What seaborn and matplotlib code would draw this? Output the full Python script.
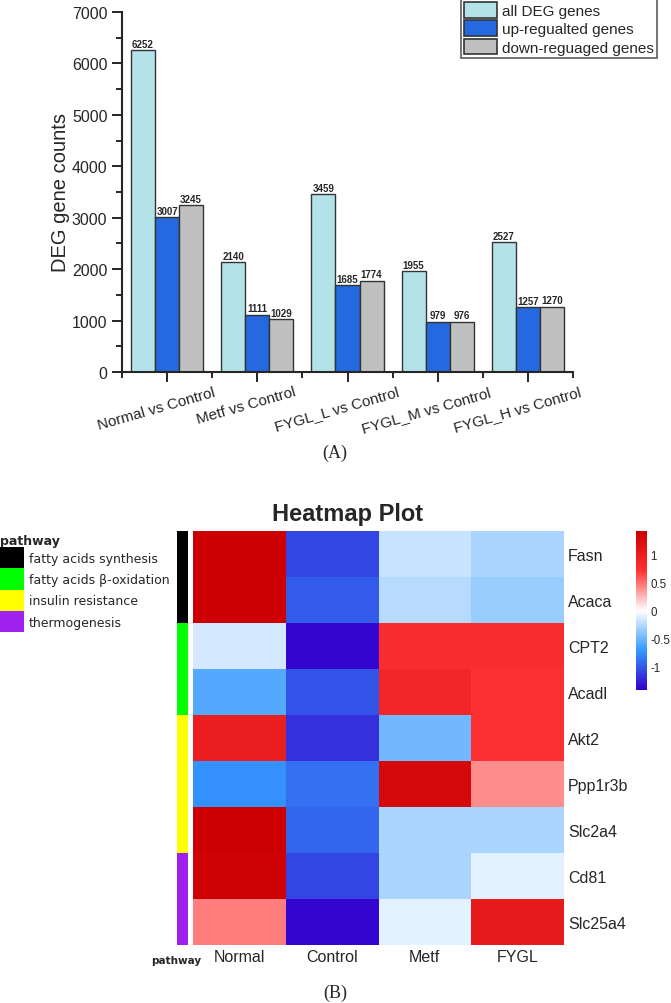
import numpy as np
import pandas as pd
import matplotlib
matplotlib.use("Agg")
import matplotlib.pyplot as plt
import matplotlib.transforms as mtransforms
import seaborn as sns
from matplotlib.colors import LinearSegmentedColormap, ListedColormap
from matplotlib.patches import Patch
from matplotlib.ticker import MultipleLocator, FixedLocator

# ---- data (A) ----
comparisons = ["Normal vs Control", "Metf vs Control", "FYGL_L vs Control",
               "FYGL_M vs Control", "FYGL_H vs Control"]
gene_types = ["all DEG genes", "up-regualted genes", "down-reguaged genes"]
all_deg = [6252, 2140, 3459, 1955, 2527]
up_deg = [3007, 1111, 1685, 979, 1257]
down_deg = [3245, 1029, 1774, 976, 1270]
bar_colors = ["#b3e3e8", "#2469e0", "#c0c0c0"]

# ---- data (B) ----
genes = ["Fasn", "Acaca", "CPT2", "Acadl", "Akt2", "Ppp1r3b", "Slc2a4", "Cd81", "Slc25a4"]
groups = ["Normal", "Control", "Metf", "FYGL"]
normal_z = [1.45, 1.45, -0.15, -0.60, 1.00, -0.75, 1.45, 1.40, 0.45]
control_z = [-1.10, -1.00, -1.40, -1.05, -1.20, -0.90, -0.95, -1.10, -1.40]
metf_z = [-0.20, -0.25, 0.80, 0.90, -0.50, 1.30, -0.30, -0.30, -0.10]
fygl_z = [-0.30, -0.35, 0.80, 0.75, 0.75, 0.40, -0.30, -0.10, 1.05]
pathways = ["fatty acids synthesis", "fatty acids β-oxidation",
            "insulin resistance", "thermogenesis"]
gene_pathway = [0, 0, 1, 1, 2, 2, 2, 3, 3]
pathway_colors = ["#000000", "#00ff00", "#ffff00", "#a020f0"]

sns.set_style("ticks")
plt.rcParams["font.family"] = ["Liberation Sans", "DejaVu Sans"]

W, H = 671, 1004
fig = plt.figure(figsize=(W / 100, H / 100), dpi=100)


def box(x0, y0, x1, y1):
    # pixel box (top-left origin) -> figure fraction rect
    return [x0 / W, 1 - y1 / H, (x1 - x0) / W, (y1 - y0) / H]


def px_shift(dx, dy=0):
    return mtransforms.ScaledTranslation(dx / 100, dy / 100, fig.dpi_scale_trans)


# ---------------- bar chart ----------------
df = pd.DataFrame({
    "comparison": np.repeat(comparisons, 3),
    "type": gene_types * len(comparisons),
    "count": np.column_stack([all_deg, up_deg, down_deg]).ravel(),
})
ax = fig.add_axes(box(122, 13, 573, 373))
sns.barplot(data=df, x="comparison", y="count", hue="type", hue_order=gene_types,
            palette=bar_colors, edgecolor="#333333", linewidth=1.0, width=0.8,
            saturation=1, ax=ax)
for cont in ax.containers:
    ax.bar_label(cont, fontsize=7, fontweight="bold", padding=1)
ax.set_xlim(-0.5, 4.5)
ax.set_ylim(0, 7000)
ax.yaxis.set_major_locator(MultipleLocator(1000))
ax.yaxis.set_minor_locator(MultipleLocator(500))
ax.xaxis.set_minor_locator(FixedLocator([-0.5, 0.5, 1.5, 2.5, 3.5, 4.5]))
ax.tick_params(axis="both", which="major", length=7, width=1.2, labelsize=11.5, color="black")
ax.tick_params(axis="both", which="minor", length=4, width=1.2, color="black")
ax.tick_params(axis="x", labelsize=11, pad=2)
for s in ["left", "bottom"]:
    ax.spines[s].set_linewidth(1.5)
ax.spines["top"].set_visible(False)
ax.spines["right"].set_visible(False)
for t in ax.get_xticklabels():
    t.set_rotation(16)
    t.set_ha("center")
    t.set_transform(t.get_transform() + px_shift(-11))
ax.set_xlabel("")
ax.set_ylabel("DEG gene counts", fontsize=14.5)
ax.yaxis.set_label_coords(-0.115, 0.5)
leg = ax.legend(loc="upper right", bbox_to_anchor=(657 / W, 1.0),
                bbox_transform=fig.transFigure, fontsize=11, frameon=True,
                fancybox=False, edgecolor="#333333", borderpad=0.2,
                handlelength=2.2, handleheight=1.2, handletextpad=0.3,
                labelspacing=0.15, borderaxespad=0)
leg.get_frame().set_linewidth(1.2)
for h in leg.legend_handles:
    h.set_edgecolor("#333333")
    h.set_linewidth(1.2)

fig.text(335 / W, 1 - 453 / H, "(A)", ha="center", va="center", fontsize=13,
         family="Liberation Serif")

# ---------------- heatmap ----------------
hm = pd.DataFrame(np.column_stack([normal_z, control_z, metf_z, fygl_z]),
                  index=genes, columns=groups)
cmap = LinearSegmentedColormap.from_list(
    "bwr5", ["#3300CC", "#3399FF", "#FFFFFF", "#FF3333", "#CC0000"])

hax = fig.add_axes(box(193, 532, 564, 946))
cax = fig.add_axes(box(636, 532, 647, 691))
sns.heatmap(hm, cmap=cmap, vmin=-1.43, vmax=1.43, ax=hax, cbar_ax=cax,
            linewidths=0)
hax.yaxis.tick_right()
hax.tick_params(axis="both", length=0, labelsize=11.5, pad=3)
plt.setp(hax.get_yticklabels(), rotation=0)
plt.setp(hax.get_xticklabels(), rotation=0)
cbar = hax.collections[0].colorbar
cbar.outline.set_visible(False)
cbar.set_ticks([-1, -0.5, 0, 0.5, 1])
cbar.set_ticklabels(["-1", "-0.5", "0", "0.5", "1"])
cax.tick_params(length=0, labelsize=8.3, pad=2.5)

sax = fig.add_axes(box(177, 532, 188, 946))
side = pd.DataFrame({"pathway": gene_pathway}, index=genes)
sns.heatmap(side, cmap=ListedColormap(pathway_colors), vmin=-0.5, vmax=3.5,
            cbar=False, ax=sax, yticklabels=False, xticklabels=False)
sax.set_xticks([0.5])
sax.set_xticklabels(["pathway"], fontsize=7.5, fontweight="bold",
                    family="DejaVu Sans", rotation=0)
sax.tick_params(axis="x", length=0, pad=7)
for t in sax.get_xticklabels():
    t.set_transform(t.get_transform() + px_shift(-6))
sax.set_xlabel("")
sax.set_ylabel("")

fig.text(348 / W, 1 - 515 / H, "Heatmap Plot", ha="center", va="center",
         fontsize=17, fontweight="bold")

handles = [Patch(facecolor=c, edgecolor="none") for c in pathway_colors]
pleg = fig.legend(handles, pathways, loc="upper left", bbox_to_anchor=(0.0, 1 - 535 / H),
                  frameon=False, title="pathway", alignment="left",
                  prop={"family": "DejaVu Sans", "size": 9},
                  title_fontproperties={"family": "DejaVu Sans", "size": 9, "weight": "bold"},
                  handlelength=1.9, handleheight=2.25, handletextpad=0.4,
                  labelspacing=0.0, borderpad=0, borderaxespad=0)

fig.text(335 / W, 1 - 993 / H, "(B)", ha="center", va="center", fontsize=13,
         family="Liberation Serif")
fig.savefig("out.png", dpi=100)
